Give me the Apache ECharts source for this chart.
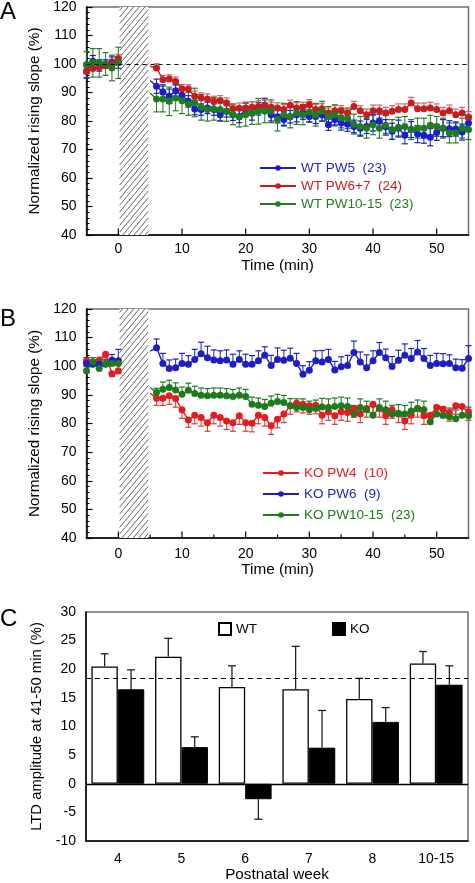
<!DOCTYPE html>
<html><head><meta charset="utf-8">
<script src="https://cdn.jsdelivr.net/npm/echarts@6/dist/echarts.min.js"></script>
<style>html,body{margin:0;padding:0;background:#fff}#c{width:475px;height:883px}</style>
</head><body><div id="c"></div>
<script>
// ---------- DATA ----------
const TIME_PRE = [-5, -4, -3, -2, -1, 0];
const TIME_POST = [5,
  6, 7, 8, 9, 10, 11, 12, 13, 14, 15,
  16, 17, 18, 19, 20, 21, 22, 23, 24, 25,
  26, 27, 28, 29, 30, 31, 32, 33, 34, 35,
  36, 37, 38, 39, 40, 41, 42, 43, 44, 45,
  46, 47, 48, 49, 50, 51, 52, 53, 54, 55];

// Panel A (WT)
const WT_PW5_PRE = [97.5, 101.0, 99.5, 100.0, 100.5, 100.5];
const WT_PW5_POST = [94.2,
  92.2, 90.2, 88.7, 90.6, 89.0, 86.9, 84.2, 84.0, 84.6, 84.0,
  82.2, 83.4, 82.2, 81.6, 84.3, 82.8, 84.3, 85.5, 82.2, 81.5,
  80.5, 81.5, 82.2, 82.8, 81.6, 81.6, 82.2, 78.7, 80.5, 79.3,
  78.9, 78.1, 77.5, 78.1, 79.3, 79.9, 78.0, 76.4, 77.5, 75.0,
  77.0, 75.4, 75.0, 74.3, 76.0, 77.5, 77.3, 77.2, 76.1, 79.3];
const WT_PW5_ERR_PRE = [2.5, 2.0, 2.0, 1.5, 2.0, 2.0];
const WT_PW5_ERR_POST = [0,
  2.5, 2.5, 2.5, 2.2, 2.2, 2.0, 2.0, 2.0, 2.0, 2.0,
  2.2, 2.0, 2.0, 2.2, 2.2, 2.5, 2.2, 2.5, 2.2, 2.2,
  2.0, 2.2, 2.5, 2.2, 2.0, 2.5, 2.2, 2.0, 2.2, 2.5,
  2.5, 2.2, 2.5, 2.5, 2.8, 2.5, 2.5, 2.8, 2.8, 3.0,
  2.8, 3.0, 2.8, 3.0, 2.8, 3.0, 2.8, 2.5, 2.8, 2.5];

const WT_PW67_PRE = [97.4, 98.4, 98.8, 99.5, 100.1, 101.9];
const WT_PW67_POST = [99.2,
  98.6, 94.5, 94.7, 93.9, 91.3, 91.2, 88.7, 88.1, 87.7, 86.9,
  87.1, 86.3, 84.3, 84.5, 84.6, 84.8, 85.1, 85.5, 84.8, 84.6,
  84.0, 85.5, 84.6, 84.8, 85.7, 84.0, 84.3, 82.8, 83.6, 83.6,
  82.8, 85.1, 83.6, 82.2, 83.6, 83.6, 82.8, 83.4, 84.0, 84.0,
  86.3, 84.3, 84.3, 84.6, 84.0, 82.8, 83.6, 82.2, 82.8, 81.3];
const WT_PW67_ERR_PRE = [1.5, 1.5, 1.5, 1.5, 1.5, 1.5];
const WT_PW67_ERR_POST = [0,
  1.5, 1.5, 1.5, 1.5, 1.5, 1.5, 1.8, 1.8, 1.8, 1.8,
  1.8, 1.8, 1.8, 1.8, 2.0, 2.0, 2.0, 2.0, 1.8, 1.8,
  1.8, 1.8, 1.8, 1.8, 1.8, 1.8, 1.8, 1.8, 1.8, 1.8,
  1.8, 1.8, 1.8, 2.0, 2.0, 2.0, 2.0, 2.0, 2.0, 2.0,
  2.0, 2.0, 2.0, 2.0, 2.0, 2.0, 2.0, 2.0, 2.0, 2.0];

const WT_PW1015_PRE = [99.8, 100.4, 100.4, 100.0, 98.6, 100.4];
const WT_PW1015_POST = [89.8,
  87.7, 87.7, 86.9, 88.1, 87.1, 86.0, 86.5, 84.8, 84.0, 84.3,
  84.0, 83.4, 82.2, 81.4, 82.2, 82.8, 83.4, 83.4, 83.4, 80.5,
  82.2, 81.6, 82.8, 82.2, 83.2, 82.2, 83.4, 81.6, 82.2, 81.1,
  80.8, 78.9, 78.1, 77.5, 78.7, 77.5, 78.5, 77.0, 77.8, 78.1,
  77.0, 77.5, 77.5, 78.5, 78.1, 77.5, 75.8, 75.8, 77.5, 77.0];
const WT_PW1015_ERR_PRE = [4.5, 5.0, 5.0, 4.0, 4.5, 5.5];
const WT_PW1015_ERR_POST = [0,
  4.5, 4.5, 5.0, 4.5, 4.5, 4.0, 5.0, 4.5, 4.0, 4.0,
  4.0, 3.5, 3.5, 3.5, 4.0, 4.0, 4.5, 4.0, 4.0, 4.0,
  4.0, 4.0, 4.0, 3.5, 3.5, 4.0, 3.5, 3.5, 3.5, 3.5,
  3.5, 3.5, 3.5, 3.5, 3.5, 3.5, 3.5, 3.5, 3.5, 3.5,
  3.5, 3.5, 3.5, 3.5, 3.5, 3.5, 3.5, 3.5, 3.5, 3.5];

// Panel B (KO)
const KO_PW4_PRE = [101.9, 101.5, 102.2, 104.2, 97.4, 98.4];
const KO_PW4_POST = [90.6,
  88.8, 88.8, 89.7, 88.7, 84.8, 81.2, 82.9, 82.1, 80.3, 82.9,
  82.1, 80.9, 80.3, 82.7, 80.3, 80.1, 82.9, 82.1, 79.2, 81.5,
  83.3, 86.2, 87.1, 86.7, 86.2, 86.4, 82.9, 84.1, 82.7, 84.1,
  83.8, 85.2, 83.3, 85.2, 86.7, 85.2, 82.7, 84.8, 83.3, 80.9,
  82.9, 85.2, 82.7, 82.9, 85.6, 85.0, 83.8, 86.2, 85.9, 84.1];
const KO_PW4_ERR_PRE = [1.0, 1.0, 1.0, 1.0, 1.0, 1.0];
const KO_PW4_ERR_POST = [0,
  2.5, 2.5, 3.0, 3.0, 3.0, 2.5, 3.0, 3.0, 3.0, 3.0,
  3.0, 3.0, 3.0, 3.0, 3.0, 3.0, 3.0, 3.0, 3.0, 3.0,
  3.0, 3.0, 3.0, 3.0, 3.0, 3.0, 3.0, 3.0, 3.0, 3.0,
  3.0, 3.0, 3.0, 3.0, 3.0, 3.0, 3.0, 3.0, 3.0, 3.0,
  3.0, 3.0, 3.0, 3.0, 3.0, 3.0, 3.0, 3.0, 3.0, 3.0];

const KO_PW6_PRE = [101.0, 100.7, 100.7, 100.7, 102.1, 101.9];
const KO_PW6_POST = [105.3,
  106.5, 101.0, 99.2, 99.5, 101.0, 100.7, 102.4, 104.4, 103.0, 102.2,
  101.9, 102.2, 100.7, 102.4, 100.7, 100.7, 101.9, 103.8, 100.3, 102.4,
  102.1, 102.8, 101.0, 97.2, 98.6, 101.9, 101.5, 102.4, 98.7, 99.8,
  100.3, 104.8, 101.5, 99.5, 101.9, 104.8, 103.0, 99.9, 102.1, 103.8,
  102.7, 105.0, 102.7, 100.3, 101.0, 100.9, 101.0, 99.5, 99.3, 102.7];
const KO_PW6_ERR_PRE = [2.0, 1.5, 1.5, 1.5, 2.0, 4.0];
const KO_PW6_ERR_POST = [0,
  3.0, 3.5, 3.0, 3.0, 3.5, 3.0, 3.5, 4.0, 4.0, 3.5,
  3.5, 3.5, 3.5, 3.0, 3.5, 3.0, 3.5, 3.0, 3.5, 4.0,
  3.5, 3.5, 3.5, 3.0, 3.0, 3.5, 4.0, 3.5, 3.0, 3.5,
  3.5, 4.0, 3.5, 4.5, 3.5, 3.5, 3.0, 3.5, 3.5, 4.0,
  3.5, 4.0, 3.5, 3.5, 3.5, 3.5, 3.0, 3.0, 3.0, 4.5];

const KO_PW1015_PRE = [98.4, 101.5, 99.2, 101.0, 101.0, 101.0];
const KO_PW1015_POST = [92.6,
  90.8, 92.0, 92.6, 91.7, 90.2, 91.6, 90.5, 89.9, 89.7, 89.9,
  89.9, 89.7, 89.4, 89.9, 89.4, 86.7, 86.4, 85.9, 87.1, 87.7,
  87.3, 86.2, 85.6, 85.6, 84.8, 85.2, 85.8, 85.6, 85.9, 86.2,
  85.9, 83.3, 85.6, 84.8, 82.9, 85.6, 84.8, 83.3, 83.6, 83.3,
  84.4, 85.2, 84.8, 80.6, 83.3, 82.9, 82.4, 81.7, 82.9, 82.7];
const KO_PW1015_ERR_PRE = [1.5, 1.5, 1.5, 1.5, 1.5, 1.5];
const KO_PW1015_ERR_POST = [0,
  1.5, 2.5, 2.5, 2.5, 2.5, 2.5, 2.5, 2.5, 2.5, 2.5,
  2.5, 2.5, 2.5, 2.5, 2.5, 2.5, 2.5, 2.5, 2.5, 2.5,
  2.5, 2.5, 3.0, 3.0, 3.0, 3.0, 3.0, 3.0, 3.0, 3.0,
  3.0, 3.0, 3.0, 3.0, 3.0, 3.0, 3.0, 3.0, 3.0, 3.0,
  3.0, 3.0, 3.0, 3.0, 3.0, 3.0, 3.0, 3.0, 3.0, 3.0];

// Panel C
const WEEKS = ['4', '5', '6', '7', '8', '10-15'];
const WT_LTD = [20.5, 22.2, 16.9, 16.5, 14.8, 21.0];
const WT_LTD_ERR = [2.2, 3.2, 3.7, 7.5, 3.6, 2.1];
const KO_LTD = [16.5, 6.4, -2.7, 6.3, 10.8, 17.3];
const KO_LTD_ERR = [3.4, 1.8, 3.5, 6.5, 2.5, 3.3];
const LTD_REF = 18.4;

const HATCH = [0.2, 4.7];
const BASELINE = 100;

// ---------- STYLE ----------
const FONT = 'Liberation Sans, Arial, Helvetica, sans-serif';
const C_BLUE = '#1c1cd0', C_RED = '#c41e1e', C_GREEN = '#1f7d1f';
const C_RED_B = '#e51b1f', C_BLUE_B = '#1e1ec4', C_GREEN_B = '#1d7a1d';
const NAME_FS = 15.3;

function lineSeries(name, color, times, vals, g, hideFirst) {
  return {
    type: 'line', name, xAxisIndex: g, yAxisIndex: g, z: 4,
    data: times.map((t, i) => (hideFirst && i === 0) ? { value: [t, vals[i]], symbol: 'none' } : [t, vals[i]]),
    symbol: 'circle', symbolSize: 7, showSymbol: true,
    lineStyle: { color, width: 1.4 }, itemStyle: { color }, emphasis: { disabled: true }
  };
}
function errSeries(color, times, vals, errs, g, mode) {
  return {
    type: 'custom', xAxisIndex: g, yAxisIndex: g, z: 3, silent: true,
    data: times.map((t, i) => [t, vals[i], errs[i]]),
    encode: { x: 0, y: 1 },
    renderItem: (params, api) => {
      const x = api.value(0), y = api.value(1), e = api.value(2);
      if (!e) return null;
      const lo = mode === 'up' ? y : y - e, hi = mode === 'down' ? y : y + e;
      const p0 = api.coord([x, lo]), p1 = api.coord([x, hi]);
      const w = 3;
      const ch = [{ type: 'line', shape: { x1: p0[0], y1: p0[1], x2: p1[0], y2: p1[1] }, style: { stroke: color, lineWidth: 1 } }];
      if (mode !== 'down') ch.push({ type: 'line', shape: { x1: p1[0] - w, y1: p1[1], x2: p1[0] + w, y2: p1[1] }, style: { stroke: color, lineWidth: 1.2 } });
      if (mode !== 'up') ch.push({ type: 'line', shape: { x1: p0[0] - w, y1: p0[1], x2: p0[0] + w, y2: p0[1] }, style: { stroke: color, lineWidth: 1.2 } });
      return { type: 'group', children: ch };
    }
  };
}
function hatchSeries(g) {
  return {
    type: 'custom', xAxisIndex: g, yAxisIndex: g, z: 2, silent: true,
    data: [[HATCH[0], HATCH[1]]], encode: { x: [0, 1] },
    renderItem: (params, api) => {
      const tl = api.coord([api.value(0), 120]), br = api.coord([api.value(1), 40]);
      const x1 = tl[0], y1 = tl[1], x2 = br[0], y2 = br[1];
      const k = 1.2, step = 5.6;
      const ch = [{ type: 'rect', shape: { x: x1, y: y1, width: x2 - x1, height: y2 - y1 }, style: { fill: '#fff' } }];
      const bmin = y1 + k * x1, bmax = y2 + k * x2;
      for (let b = bmin + step * k * 0.5; b < bmax; b += step * k) {
        let xa = Math.max((b - y2) / k, x1), xb = Math.min((b - y1) / k, x2);
        if (xb <= xa) continue;
        ch.push({ type: 'line', shape: { x1: xa, y1: b - k * xa, x2: xb, y2: b - k * xb }, style: { stroke: '#555', lineWidth: 0.9 } });
      }
      return { type: 'group', children: ch };
    }
  };
}
function tickSeries(g, withMinor) {
  const d = [];
  for (let v = 0; v <= 50; v += withMinor ? 5 : 10) d.push([v, v % 10 === 0 ? 1 : 0]);
  return {
    type: 'custom', xAxisIndex: g, yAxisIndex: g, z: 6, silent: true,
    data: d, encode: { x: 0 },
    renderItem: (params, api) => {
      const p = api.coord([api.value(0), 40]);
      const len = api.value(1) ? 6.5 : 3.5;
      return { type: 'line', shape: { x1: p[0], y1: p[1], x2: p[0], y2: p[1] - len }, style: { stroke: '#000', lineWidth: 1.2 } };
    }
  };
}
function xAxisTime(g, margin, gap) {
  return {
    type: 'value', gridIndex: g, min: -5, max: 55, interval: 5,
    axisLine: { onZero: false, lineStyle: { color: '#000', width: 1.5 } },
    axisTick: { show: false }, splitLine: { show: false },
    axisLabel: { color: '#000', fontSize: 14, margin, fontFamily: FONT,
      formatter: v => (v >= 0 && v <= 50 && v % 10 === 0) ? String(v) : '' },
    name: 'Time (min)', nameLocation: 'middle', nameGap: gap,
    nameTextStyle: { color: '#000', fontSize: NAME_FS, fontFamily: FONT }
  };
}
function yAxisTime(g) {
  return {
    type: 'value', gridIndex: g, min: 40, max: 120, interval: 10,
    axisLine: { show: true, onZero: false, lineStyle: { color: '#000', width: 1.5 } },
    axisTick: { inside: true, length: 6, lineStyle: { color: '#000', width: 1.2 } },
    minorTick: { show: true, splitNumber: 5, length: 3, lineStyle: { color: '#000', width: 1 } },
    splitLine: { show: false }, minorSplitLine: { show: false },
    axisLabel: { color: '#000', fontSize: 14, margin: 10, fontFamily: FONT },
    name: 'Normalized rising slope (%)', nameLocation: 'middle', nameGap: 40,
    nameTextStyle: { color: '#000', fontSize: NAME_FS, fontFamily: FONT }
  };
}

const gridCommon = { show: true, borderColor: '#707070', borderWidth: 1.5, backgroundColor: 'transparent', containLabel: false };

const series = [
  hatchSeries(0), hatchSeries(1), tickSeries(0, false), tickSeries(1, true),
  // A error bars
  errSeries(C_GREEN, TIME_PRE, WT_PW1015_PRE, WT_PW1015_ERR_PRE, 0, 'both'),
  errSeries(C_GREEN, TIME_POST, WT_PW1015_POST, WT_PW1015_ERR_POST, 0, 'both'),
  errSeries(C_BLUE, TIME_PRE, WT_PW5_PRE, WT_PW5_ERR_PRE, 0, 'both'),
  errSeries(C_BLUE, TIME_POST, WT_PW5_POST, WT_PW5_ERR_POST, 0, 'both'),
  errSeries('#d86060', TIME_PRE, WT_PW67_PRE, WT_PW67_ERR_PRE, 0, 'up'),
  errSeries('#d86060', TIME_POST, WT_PW67_POST, WT_PW67_ERR_POST, 0, 'up'),
  // A lines
  Object.assign(lineSeries('WT PW5  (23)', C_BLUE, TIME_PRE, WT_PW5_PRE, 0, false), {
    markLine: { silent: true, symbol: 'none', label: { show: false },
      lineStyle: { color: '#000', type: [4, 4], width: 1 }, data: [{ yAxis: BASELINE }] } }),
  lineSeries('WT PW5  (23)', C_BLUE, TIME_POST, WT_PW5_POST, 0, true),
  lineSeries('WT PW6+7  (24)', C_RED, TIME_PRE, WT_PW67_PRE, 0, false),
  lineSeries('WT PW6+7  (24)', C_RED, TIME_POST, WT_PW67_POST, 0, true),
  lineSeries('WT PW10-15  (23)', C_GREEN, TIME_PRE, WT_PW1015_PRE, 0, false),
  lineSeries('WT PW10-15  (23)', C_GREEN, TIME_POST, WT_PW1015_POST, 0, true),
  // B error bars
  errSeries(C_BLUE_B, TIME_PRE, KO_PW6_PRE, KO_PW6_ERR_PRE, 1, 'up'),
  errSeries(C_BLUE_B, TIME_POST, KO_PW6_POST, KO_PW6_ERR_POST, 1, 'up'),
  errSeries(C_GREEN_B, TIME_PRE, KO_PW1015_PRE, KO_PW1015_ERR_PRE, 1, 'up'),
  errSeries(C_GREEN_B, TIME_POST, KO_PW1015_POST, KO_PW1015_ERR_POST, 1, 'up'),
  errSeries('#d33a3a', TIME_PRE, KO_PW4_PRE, KO_PW4_ERR_PRE, 1, 'down'),
  errSeries('#d33a3a', TIME_POST, KO_PW4_POST, KO_PW4_ERR_POST, 1, 'down'),
  // B lines
  lineSeries('KO PW4  (10)', C_RED_B, TIME_PRE, KO_PW4_PRE, 1, false),
  lineSeries('KO PW4  (10)', C_RED_B, TIME_POST, KO_PW4_POST, 1, true),
  lineSeries('KO PW6  (9)', C_BLUE_B, TIME_PRE, KO_PW6_PRE, 1, false),
  lineSeries('KO PW6  (9)', C_BLUE_B, TIME_POST, KO_PW6_POST, 1, true),
  lineSeries('KO PW10-15  (23)', C_GREEN_B, TIME_PRE, KO_PW1015_PRE, 1, false),
  lineSeries('KO PW10-15  (23)', C_GREEN_B, TIME_POST, KO_PW1015_POST, 1, true),
  // C bars
  {
    type: 'bar', name: 'WT', xAxisIndex: 2, yAxisIndex: 2, data: WT_LTD,
    barGap: '0%', barCategoryGap: '17%', z: 2,
    itemStyle: { color: '#fff', borderColor: '#000', borderWidth: 1.3 },
    emphasis: { disabled: true },
    markLine: { silent: true, symbol: 'none', label: { show: false }, z: 5,
      data: [
        { yAxis: 0, lineStyle: { color: '#000', type: 'solid', width: 1.3 } },
        { yAxis: LTD_REF, lineStyle: { color: '#000', type: [5, 4], width: 1 } }
      ] }
  },
  {
    type: 'bar', name: 'KO', xAxisIndex: 2, yAxisIndex: 2, data: KO_LTD, z: 2,
    itemStyle: { color: '#000', borderColor: '#000', borderWidth: 1 },
    emphasis: { disabled: true }
  },
  {
    type: 'custom', xAxisIndex: 2, yAxisIndex: 2, z: 4, silent: true,
    data: WT_LTD.map((v, i) => [i, v, WT_LTD_ERR[i], -1]).concat(KO_LTD.map((v, i) => [i, v, KO_LTD_ERR[i], 1])),
    encode: { x: 0, y: 1 },
    renderItem: (params, api) => {
      const ci = api.value(0), v = api.value(1), e = api.value(2), side = api.value(3);
      const band = api.size([1, 0])[0];
      const bw = band * (1 - 0.17) / 2;
      const cx = api.coord([ci, 0])[0] + side * bw / 2;
      const end = v >= 0 ? v + e : v - e;
      const y0 = api.coord([ci, v])[1], y1 = api.coord([ci, end])[1];
      const col = '#222';
      return { type: 'group', children: [
        { type: 'line', shape: { x1: cx, y1: y0, x2: cx, y2: y1 }, style: { stroke: col, lineWidth: 1.3 } },
        { type: 'line', shape: { x1: cx - 4, y1: y1, x2: cx + 4, y2: y1 }, style: { stroke: col, lineWidth: 1.3 } }
      ] };
    }
  }
];

const option = {
  animation: false,
  backgroundColor: '#fff',
  textStyle: { fontFamily: FONT },
  grid: [
    Object.assign({ left: 86.5, top: 6, width: 382, height: 229 }, gridCommon),
    Object.assign({ left: 86.5, top: 309, width: 382, height: 229 }, gridCommon),
    Object.assign({ left: 86, top: 612, width: 382, height: 229 }, gridCommon)
  ],
  xAxis: [
    xAxisTime(0, 7, 23),
    xAxisTime(1, 9, 22),
    {
      type: 'category', gridIndex: 2, data: WEEKS, boundaryGap: true,
      axisLine: { onZero: false, lineStyle: { color: '#000', width: 1.5 } },
      axisTick: { inside: true, length: 7, alignWithLabel: false, lineStyle: { color: '#000', width: 1.2 } },
      axisLabel: { color: '#000', fontSize: 14, margin: 11, fontFamily: FONT },
      name: 'Postnatal week', nameLocation: 'middle', nameGap: 26,
      nameTextStyle: { color: '#000', fontSize: NAME_FS, fontFamily: FONT }
    }
  ],
  yAxis: [
    yAxisTime(0), yAxisTime(1),
    {
      type: 'value', gridIndex: 2, min: -10, max: 30, interval: 5,
      axisLine: { show: true, onZero: false, lineStyle: { color: '#000', width: 1.5 } },
      axisTick: { inside: true, length: 6, lineStyle: { color: '#000', width: 1.2 } },
      splitLine: { show: false },
      axisLabel: { color: '#000', fontSize: 14, margin: 10, fontFamily: FONT },
      name: 'LTD amplitude at 41-50 min (%)', nameLocation: 'middle', nameGap: 39,
      nameTextStyle: { color: '#000', fontSize: 14.8, fontFamily: FONT }
    }
  ],
  legend: [
    {
      orient: 'vertical', left: 259, top: 161, padding: 0, itemGap: 4,
      itemWidth: 36, itemHeight: 7, selectedMode: false,
      textStyle: { fontSize: 13.5, fontFamily: FONT },
      data: [
        { name: 'WT PW5  (23)', textStyle: { color: C_BLUE } },
        { name: 'WT PW6+7  (24)', textStyle: { color: C_RED } },
        { name: 'WT PW10-15  (23)', textStyle: { color: C_GREEN } }
      ]
    },
    {
      orient: 'vertical', left: 262, top: 466, padding: 0, itemGap: 7,
      itemWidth: 36, itemHeight: 7, selectedMode: false,
      textStyle: { fontSize: 13.5, fontFamily: FONT },
      data: [
        { name: 'KO PW4  (10)', textStyle: { color: C_RED_B } },
        { name: 'KO PW6  (9)', textStyle: { color: C_BLUE_B } },
        { name: 'KO PW10-15  (23)', textStyle: { color: C_GREEN_B } }
      ]
    },
    {
      orient: 'horizontal', left: 218, top: 622, padding: 0, itemGap: 75,
      itemWidth: 12, itemHeight: 12, selectedMode: false, icon: 'rect',
      textStyle: { fontSize: 13.5, color: '#000', fontFamily: FONT },
      data: ['WT', 'KO']
    }
  ],
  graphic: [
    { type: 'text', x: 0, y: 12.5, style: { text: 'A', font: '24px ' + FONT, fill: '#000', textVerticalAlign: 'middle', verticalAlign: 'middle' } },
    { type: 'text', x: 0, y: 319, style: { text: 'B', font: '24px ' + FONT, fill: '#000', textVerticalAlign: 'middle', verticalAlign: 'middle' } },
    { type: 'text', x: 0, y: 619.5, style: { text: 'C', font: '24px ' + FONT, fill: '#000', textVerticalAlign: 'middle', verticalAlign: 'middle' } }
  ],
  series
};

const chart = echarts.init(document.getElementById('c'), null, { renderer: 'canvas' });
chart.setOption(option);
</script>
</body></html>
